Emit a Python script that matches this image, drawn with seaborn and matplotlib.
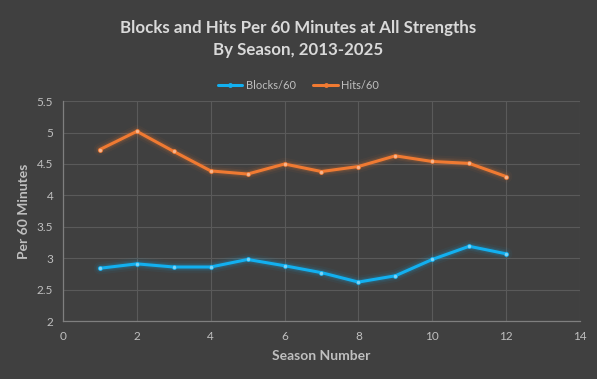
import numpy as np
import pandas as pd
import matplotlib
matplotlib.use("Agg")
import matplotlib.pyplot as plt
from matplotlib.lines import Line2D
import seaborn as sns

# Data
seasons = [1, 2, 3, 4, 5, 6, 7, 8, 9, 10, 11, 12]
blocks_60 = [2.84, 2.91, 2.86, 2.86, 2.98, 2.88, 2.77, 2.62, 2.72, 2.98, 3.19, 3.07]
hits_60 = [4.73, 5.02, 4.70, 4.39, 4.34, 4.50, 4.38, 4.46, 4.63, 4.54, 4.51, 4.30]
series_names = ["Blocks/60", "Hits/60"]
x_ticks = [0, 2, 4, 6, 8, 10, 12, 14]
y_ticks = [2, 2.5, 3, 3.5, 4, 4.5, 5, 5.5]

df = pd.DataFrame({
    "Season": seasons * 2,
    "Value": blocks_60 + hits_60,
    "Series": [series_names[0]] * len(seasons) + [series_names[1]] * len(seasons),
})

bg = "#404040"
grid_col = "#5a5a5a"
text_col = "#d9d9d9"
tick_col = "#bfbfbf"
palette = {"Blocks/60": "#12b0f0", "Hits/60": "#f07a32"}

sns.set_style("dark")
plt.rcParams["font.family"] = ["Lato", "DejaVu Sans"]

fig = plt.figure(figsize=(5.97, 3.79), dpi=100, facecolor=bg)
ax = fig.add_axes([0.1055, 0.153, 0.866, 0.580])
ax.set_facecolor(bg)

# soft glow under each line
for name in series_names:
    sub = df[df["Series"] == name]
    for lw, a in [(9, 0.05), (6, 0.09), (4, 0.13)]:
        ax.plot(sub["Season"], sub["Value"], color=palette[name], lw=lw, alpha=a,
                solid_capstyle="round", zorder=2)

sns.lineplot(data=df, x="Season", y="Value", hue="Series", palette=palette,
             linewidth=2.2, marker="o", markersize=3.5, markeredgewidth=0,
             ax=ax, legend=False, zorder=3)
# lighter marker centres
for name in series_names:
    sub = df[df["Series"] == name]
    ax.scatter(sub["Season"], sub["Value"], s=6, color="white", alpha=0.45,
               linewidths=0, zorder=4)

ax.set_xlim(0, 14)
ax.set_ylim(2, 5.5)
ax.set_xticks(x_ticks)
ax.set_yticks(y_ticks)
ax.set_xticklabels([str(t) for t in x_ticks])
ax.set_yticklabels(["2", "2.5", "3", "3.5", "4", "4.5", "5", "5.5"])
ax.grid(True, color=grid_col, lw=0.8)
ax.tick_params(colors=tick_col, labelsize=8.5, length=0, pad=7)
for s in ["top", "right"]:
    ax.spines[s].set_visible(False)
for s in ["left", "bottom"]:
    ax.spines[s].set_color("#7f7f7f")
    ax.spines[s].set_linewidth(0.9)

ax.set_xlabel("Season Number", color=tick_col, fontsize=10, fontweight="bold", labelpad=6)
ax.set_ylabel("Per 60 Minutes", color=tick_col, fontsize=10, fontweight="bold", labelpad=5)

fig.text(0.5, 0.897, "Blocks and Hits Per 60 Minutes at All Strengths\nBy Season, 2013-2025",
         ha="center", va="center", color=text_col, fontsize=12.2, fontweight="bold",
         linespacing=1.45)

# legend
handles = [Line2D([0], [0], color=palette[n], lw=2.2, marker="o", markersize=3.5,
                  markeredgewidth=0) for n in series_names]
fig.legend(handles, series_names, loc="center", bbox_to_anchor=(0.5, 0.775), ncol=2,
           frameon=False, fontsize=8, labelcolor=tick_col, handlelength=2.2,
           handletextpad=0.3, columnspacing=1.6)

fig.savefig("out.png", dpi=100, facecolor=bg)
